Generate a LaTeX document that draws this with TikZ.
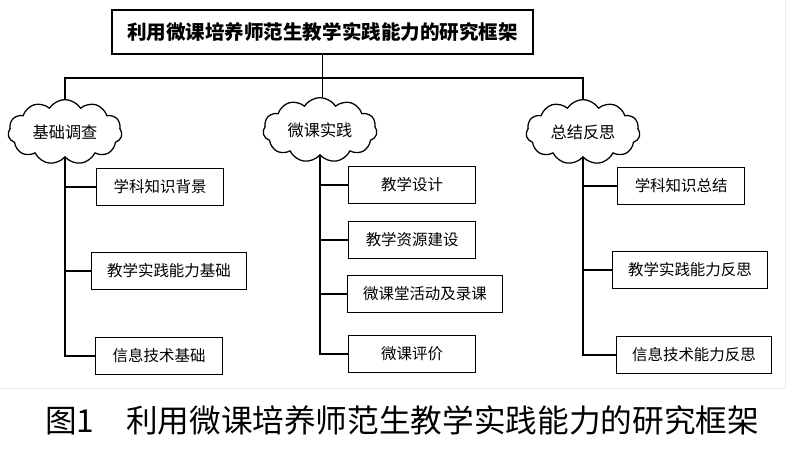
\documentclass[tikz,border=0pt]{standalone}
\usepackage{fontspec}
\setmainfont{Noto Sans CJK SC}
\usetikzlibrary{shapes.symbols}
\tikzset{
  leafbox/.style={draw, line width=0.9pt, anchor=west, minimum width=3.175cm,
    minimum height=0.92cm, inner xsep=11pt, font=\fontsize{11pt}{13pt}\selectfont},
  stage/.style={cloud, draw, line width=0.9pt, cloud puffs=11, cloud puff arc=115,
    aspect=1.75, inner sep=0pt, minimum width=2.85cm, minimum height=1.62cm,
    font=\fontsize{11.5pt}{13pt}\selectfont},
}
\begin{document}
\begin{tikzpicture}[x=0.025cm, y=-0.025cm, line width=0.9pt]
    \useasboundingbox (0,0) rectangle (800,448);
    % faint frame of the figure
    \draw[gray!15, line width=0.6pt] (0,388) -- (785,388) -- (785,0);

    % Title
    \node[draw, line width=0.9pt, minimum width=10.525cm, minimum height=1.1cm,
      font=\fontsize{13.9pt}{16pt}\selectfont\bfseries] (title) at (322.5,32)
      {利用微课培养师范生教学实践能力的研究框架};

    % Stages
    \node[stage] (survey) at (65,132) {基础调查};
    \node[stage] (practice) at (320,130) {微课实践};
    \node[stage] (reflect) at (583,132) {总结反思};

    \coordinate (hub) at (322.5,78);
    \draw (title.south) -- (hub);
    \draw (survey.north) |- (hub) -| (reflect.north);
    \draw (hub) -- (hub |- practice.north);

    % Survey
    \node[leafbox] (bg) at (96,187) {学科知识背景};
    \node[leafbox] (tpbase) at (91,271) {教学实践能力基础};
    \node[leafbox] (itbase) at (95,356) {信息技术基础};
    \draw (survey.south) |- (itbase.west);
    \draw (survey.south |- bg.west) -- (bg.west);
    \draw (survey.south |- tpbase.west) -- (tpbase.west);

    % Practice
    \node[leafbox] (design) at (348,185) {教学设计};
    \node[leafbox] (resource) at (348,240) {教学资源建设};
    \node[leafbox] (record) at (347,294) {微课堂活动及录课};
    \node[leafbox] (assess) at (348,354) {微课评价};
    \draw (practice.south) |- (assess.west);
    \draw (practice.south |- design.west) -- (design.west);
    \draw (practice.south |- resource.west) -- (resource.west);
    \draw (practice.south |- record.west) -- (record.west);

    % Reflection
    \node[leafbox] (summary) at (617,186) {学科知识总结};
    \node[leafbox] (tprefl) at (612,270) {教学实践能力反思};
    \node[leafbox] (itrefl) at (616,355) {信息技术能力反思};
    \draw (reflect.south) |- (itrefl.west);
    \draw (reflect.south |- summary.west) -- (summary.west);
    \draw (reflect.south |- tprefl.west) -- (tprefl.west);

    % Caption
    \node[anchor=west, font=\fontsize{22.5pt}{24pt}\selectfont] (caption) at (40,420)
      {图1\hspace{1em}利用微课培养师范生教学实践能力的研究框架};
\end{tikzpicture}
\end{document}
